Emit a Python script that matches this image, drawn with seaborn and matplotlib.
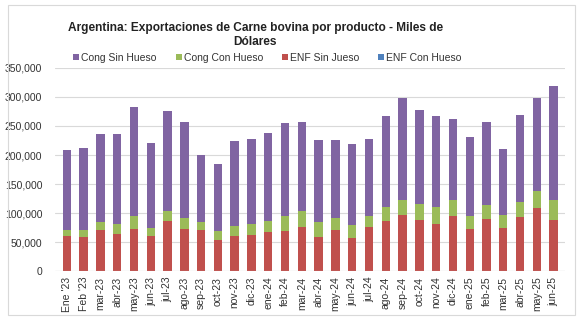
import numpy as np
import pandas as pd
import matplotlib
matplotlib.use("Agg")
import matplotlib.pyplot as plt
from matplotlib.patches import Patch, Rectangle
from matplotlib.ticker import FuncFormatter
import seaborn as sns

months = ["Ene '23", "Feb '23", "mar-23", "abr-23", "may-23", "jun-23", "jul-23",
          "ago-23", "sep-23", "oct-23", "nov-23", "dic-23", "ene-24", "feb-24",
          "mar-24", "abr-24", "may-24", "jun-24", "jul-24", "ago-24", "sep-24",
          "oct-24", "nov-24", "dic-24", "ene-25", "feb-25", "mar-25", "abr-25",
          "may-25", "jun-25"]

# Miles de USD por producto
enf_con_hueso = [0] * 30
enf_sin_hueso = [61300, 59000, 70500, 64700, 73300, 60100, 85900, 72200, 70500, 53300,
                 60700, 61900, 67000, 68700, 76200, 59000, 70500, 57900, 76200, 85900,
                 96800, 87600, 81300, 95100, 72200, 89400, 74500, 93900, 108800, 88200]
cong_con_hueso = [10300, 12000, 14800, 16100, 21200, 14900, 17200, 19400, 14800, 16000,
                  17200, 18900, 20100, 25800, 26900, 25200, 21700, 21700, 18900, 24100,
                  25200, 28100, 28700, 26900, 22900, 24000, 21700, 25800, 28700, 33800]
cong_sin_hueso = [137400, 141500, 151300, 155800, 189000, 145000, 171900, 165600, 115200, 115100,
                  146100, 146000, 150600, 159800, 154100, 140900, 132900, 139200, 132900, 156400,
                  177000, 162700, 156900, 140300, 135200, 143800, 114600, 148400, 160900, 197600]

series = ["ENF Con Hueso", "ENF Sin Jueso", "Cong Con Hueso", "Cong Sin Hueso"]
colors = {"Cong Sin Hueso": "#8064A2", "Cong Con Hueso": "#9BBB59",
          "ENF Sin Jueso": "#C0504D", "ENF Con Hueso": "#4F81BD"}

df = pd.DataFrame({"mes": months,
                   "ENF Con Hueso": enf_con_hueso,
                   "ENF Sin Jueso": enf_sin_hueso,
                   "Cong Con Hueso": cong_con_hueso,
                   "Cong Sin Hueso": cong_sin_hueso})

# cumulative tops for stacking (bottom series first)
cum = df[series].cumsum(axis=1)

sns.set_theme(style="white")
plt.rcParams["font.family"] = ["Liberation Sans", "DejaVu Sans"]

fig = plt.figure(figsize=(5.84, 3.22), dpi=100)
ax = fig.add_axes([0.094, 0.158, 0.873, 0.631])

# draw from the tallest cumulative layer down so each segment shows its own colour
for s in reversed(series):
    sns.barplot(x=df["mes"], y=cum[s], color=colors[s], ax=ax, width=0.5,
                saturation=1, edgecolor="none", zorder=3)

ax.set_ylim(0, 350000)
ax.set_yticks(np.arange(0, 350001, 50000))
ax.yaxis.set_major_formatter(FuncFormatter(lambda v, p: f"{int(v):,}"))
ax.set_xlim(-0.71, 29.66)
ax.set_xlabel("")
ax.set_ylabel("")
ax.grid(axis="y", color="#D9D9D9", linewidth=0.8, zorder=0)
for sp in ax.spines.values():
    sp.set_visible(False)
ax.axhline(0, color="#D0D0D0", linewidth=0.8, zorder=4)
ax.tick_params(axis="x", labelrotation=90, labelsize=7.5, length=0, pad=4, colors="#333333")
ax.tick_params(axis="y", labelsize=7.5, length=0, pad=9, colors="#333333")

fig.text(0.437, 0.891, "Argentina: Exportaciones de Carne bovina por producto - Miles de\nDólares",
         ha="center", va="center", fontsize=8.6, fontweight="bold", color="#222222",
         linespacing=1.3)

labels = ["Cong Sin Hueso", "Cong Con Hueso", "ENF Sin Jueso", "ENF Con Hueso"]
handles = [Patch(facecolor=colors[s], edgecolor="none") for s in labels]
fig.legend(handles, labels,
           loc="center", bbox_to_anchor=(0.458, 0.820), ncol=4, frameon=False,
           fontsize=7.5, handlelength=0.55, handleheight=0.55, handletextpad=0.2,
           columnspacing=1.85, labelcolor="#333333")

fig.patches.append(Rectangle((8 / 584, 1 - 315 / 322), 567 / 584, 310 / 322,
                             transform=fig.transFigure, fill=False,
                             edgecolor="#D9D9D9", linewidth=0.8))

fig.savefig("out.png", dpi=100)
